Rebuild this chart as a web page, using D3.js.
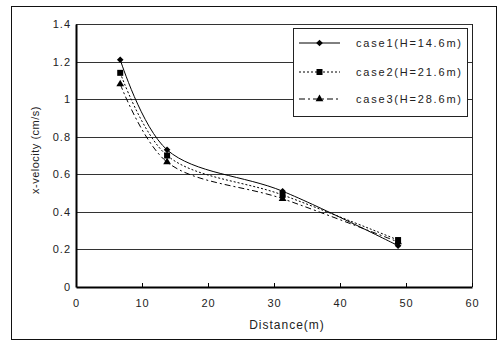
<!DOCTYPE html>
<html>
<head>
<meta charset="utf-8">
<script src="https://cdn.jsdelivr.net/npm/d3@7"></script>
<style>
  body { margin: 0; background: #fff; }
  text { font-family: "Liberation Sans", Arial, sans-serif; fill: #222; }
</style>
</head>
<body>
<svg id="chart"></svg>
<script>
// distances where velocity was measured
var distances = [6.7, 13.8, 31.3, 48.8];
var case1 = [1.21, 0.73, 0.51, 0.22];
var case2 = [1.14, 0.70, 0.49, 0.25];
var case3 = [1.08, 0.665, 0.47, 0.24];
var seriesNames = ['case1(H=14.6m)', 'case2(H=21.6m)', 'case3(H=28.6m)'];
var xTicks = [0, 10, 20, 30, 40, 50, 60];
var yTicks = [0, 0.2, 0.4, 0.6, 0.8, 1, 1.2, 1.4];

var width = 499;
var height = 342;

var svg = d3.select('#chart')
  .attr('width', width)
  .attr('height', height);

// outer frame
svg.append('rect')
  .attr('x', 11.5).attr('y', 6.5)
  .attr('width', 485).attr('height', 333)
  .attr('fill', 'none')
  .attr('stroke', '#111')
  .attr('stroke-width', 1);

// plot area edges (don't use "top" - clashes with window.top)
var plotL = 76, plotR = 472, plotT = 24, plotB = 287;

var x = d3.scaleLinear().domain([0, 60]).range([plotL, plotR]);
var y = d3.scaleLinear().domain([0, 1.4]).range([plotB, plotT]);

// gridlines
svg.append('g').selectAll('line')
  .data(yTicks.slice(1))
  .enter().append('line')
  .attr('x1', plotL).attr('x2', plotR)
  .attr('y1', function(d) { return Math.round(y(d)) + 0.5; })
  .attr('y2', function(d) { return Math.round(y(d)) + 0.5; })
  .attr('stroke', '#333')
  .attr('stroke-width', 1);

// right border of plot area
svg.append('line')
  .attr('x1', plotR + 0.5).attr('x2', plotR + 0.5)
  .attr('y1', plotT).attr('y2', plotB)
  .attr('stroke', '#222');

// axes
var xAxis = d3.axisBottom(x).tickValues(xTicks).tickSize(-4).tickPadding(12).tickSizeOuter(0);
var gx = svg.append('g')
  .attr('transform', 'translate(0,' + plotB + ')')
  .call(xAxis);
gx.select('.domain').attr('stroke', '#000').attr('stroke-width', 2);
gx.selectAll('.tick line').attr('stroke', '#000');
gx.selectAll('text').style('font-size', '11px').style('letter-spacing', '1px').attr('fill', '#333');

var yAxis = d3.axisLeft(y).tickValues(yTicks).tickSize(0).tickPadding(5)
  .tickFormat(function(d) { return d3.format('')(+d.toFixed(1)); });
var gy = svg.append('g')
  .attr('transform', 'translate(' + plotL + ',0)')
  .call(yAxis);
gy.select('.domain').attr('stroke', '#000').attr('stroke-width', 2);
gy.selectAll('text').style('font-size', '11px').style('letter-spacing', '1px').attr('fill', '#333');

// axis titles
svg.append('text')
  .attr('x', 287).attr('y', 329)
  .attr('text-anchor', 'middle')
  .style('font-size', '12px')
  .style('letter-spacing', '1px')
  .text('Distance(m)');

svg.append('text')
  .attr('transform', 'translate(39,150) rotate(-90)')
  .attr('text-anchor', 'middle')
  .style('font-size', '11px')
  .style('letter-spacing', '0.5px')
  .text('x-velocity (cm/s)');

var series = [case1, case2, case3];
var dashes = [null, '2,2', '6,3,2,3'];
// diamond = square turned 45 degrees
var symbols = [d3.symbolSquare, d3.symbolSquare, d3.symbolTriangle];
var symSizes = [22, 36, 26];
var symRot = [45, 0, 0];

var line = d3.line()
  .x(function(d) { return x(d[0]); })
  .y(function(d) { return y(d[1]); })
  .curve(d3.curveCatmullRom.alpha(0.5));

series.forEach(function(vals, i) {
  var pts = distances.map(function(d, j) { return [d, vals[j]]; });
  svg.append('path')
    .datum(pts)
    .attr('d', line)
    .attr('fill', 'none')
    .attr('stroke', '#000')
    .attr('stroke-width', 1)
    .attr('stroke-dasharray', dashes[i]);
  svg.append('g').selectAll('path')
    .data(pts)
    .enter().append('path')
    .attr('d', d3.symbol().type(symbols[i]).size(symSizes[i]))
    .attr('transform', function(d) {
      return 'translate(' + x(d[0]) + ',' + y(d[1]) + ') rotate(' + symRot[i] + ')';
    })
    .attr('fill', '#000');
});

// legend
var legend = svg.append('g');
legend.append('rect')
  .attr('x', 293.5).attr('y', 28.5)
  .attr('width', 174).attr('height', 88)
  .attr('fill', '#fff')
  .attr('stroke', '#222');

var legendY = [43, 72, 99];
seriesNames.forEach(function(name, i) {
  legend.append('line')
    .attr('x1', 299).attr('x2', 340)
    .attr('y1', legendY[i]).attr('y2', legendY[i])
    .attr('stroke', '#000')
    .attr('stroke-dasharray', dashes[i]);
  legend.append('path')
    .attr('d', d3.symbol().type(symbols[i]).size(symSizes[i])())
    .attr('transform', 'translate(319.5,' + legendY[i] + ') rotate(' + symRot[i] + ')')
    .attr('fill', '#000');
  legend.append('text')
    .attr('x', 356).attr('y', legendY[i] + 4)
    .style('font-size', '11px')
    .style('letter-spacing', '1.8px')
    .attr('fill', '#333')
    .text(name);
});
</script>
</body>
</html>
